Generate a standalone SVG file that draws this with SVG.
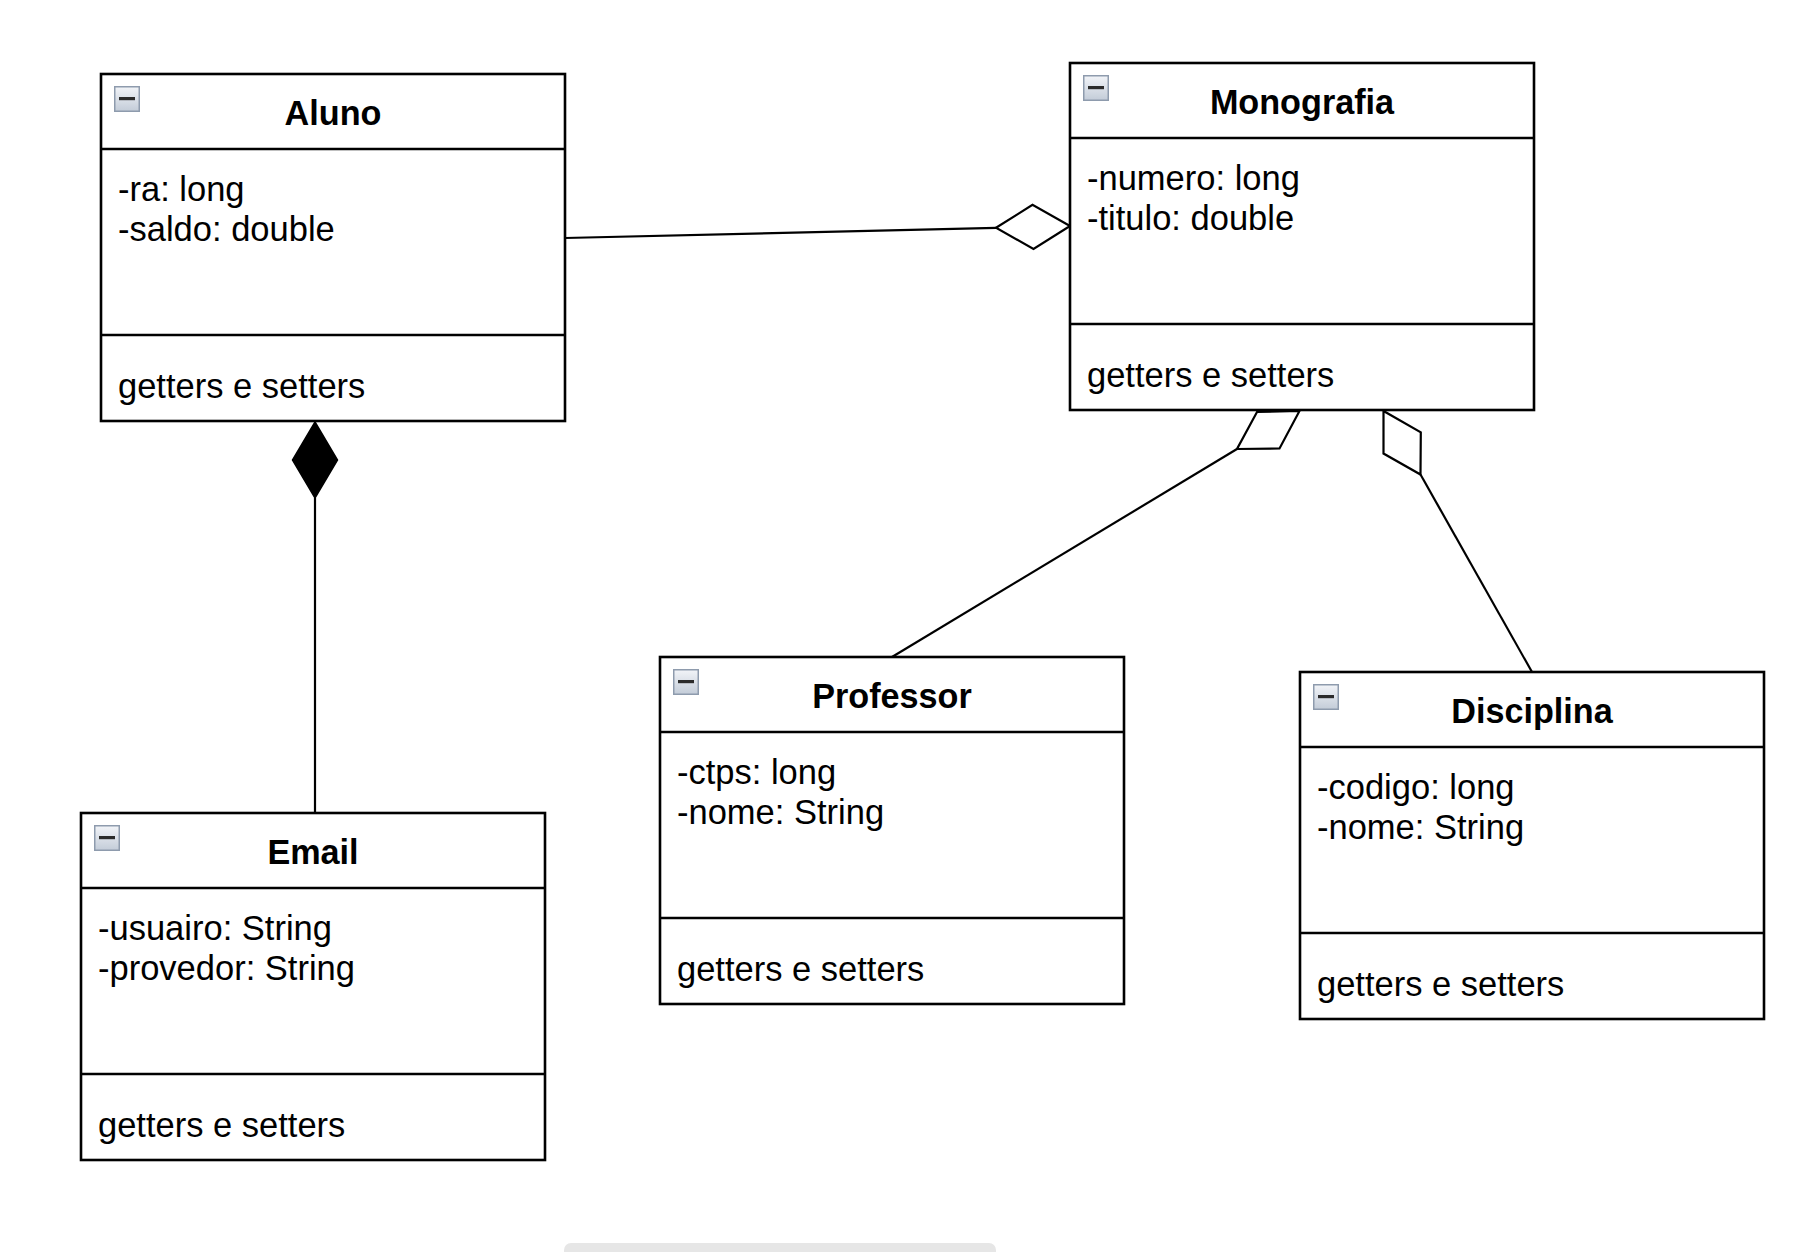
<svg xmlns="http://www.w3.org/2000/svg" xmlns:xlink="http://www.w3.org/1999/xlink" width="1802" height="1252" viewBox="0 0 1802 1252">
<style>
.box{fill:#fff;stroke:#000;stroke-width:2.6}
.div{stroke:#000;stroke-width:2.6}
.title{font-family:"Liberation Sans",Arial,sans-serif;font-weight:bold;font-size:34.2px;text-anchor:middle;fill:#000}
.txt{font-family:"Liberation Sans",Arial,sans-serif;font-size:34.5px;fill:#000}
.edge{fill:none;stroke:#000;stroke-width:2.2}
.agg{fill:#fff;stroke:#000;stroke-width:2.2;stroke-linejoin:miter}
.comp{fill:#000;stroke:#000;stroke-width:1.5}
</style>
<defs>
<linearGradient id="ig" x1="0" y1="0" x2="0" y2="1">
<stop offset="0" stop-color="#f2f4f8"/>
<stop offset="1" stop-color="#c3ccd8"/>
</linearGradient>
<g id="icon">
<rect x="0.75" y="0.75" width="24.5" height="24.5" fill="url(#ig)" stroke="#8e9bad" stroke-width="1.5"/>
<rect x="5" y="11" width="16" height="3.2" fill="#2b2b2b"/>
</g>
</defs>
<rect width="1802" height="1252" fill="#fff"/>

<g id="connectors">
<path class="edge" d="M565 238 L996 227.8"/>
<polygon class="agg" points="1070,226 1032.5,204.9 996,227.8 1033.5,248.9"/>
<path class="edge" d="M315 498 L315 813"/>
<polygon class="comp" points="315,422 337.5,460 315,498 292.5,460"/>
<path class="edge" d="M1237 449 L892 657"/>
<polygon class="agg" points="1299.5,411 1257,412 1237,449 1279.5,448.5"/>
<path class="edge" d="M1420.5 474.5 L1532 672"/>
<polygon class="agg" points="1383.5,411 1383.5,453.5 1420.5,474.5 1420.8,432.3"/>
</g>

<g id="Aluno">
<rect class="box" x="101" y="74" width="464" height="347"/>
<line class="div" x1="101" y1="149" x2="565" y2="149"/>
<line class="div" x1="101" y1="335" x2="565" y2="335"/>
<use xlink:href="#icon" x="114" y="86"/>
<text class="title" x="333" y="125">Aluno</text>
<text class="txt" x="118" y="201">-ra: long</text>
<text class="txt" x="118" y="241">-saldo: double</text>
<text class="txt" x="118" y="398">getters e setters</text>
</g>

<g id="Monografia">
<rect class="box" x="1070" y="63" width="464" height="347"/>
<line class="div" x1="1070" y1="138" x2="1534" y2="138"/>
<line class="div" x1="1070" y1="324" x2="1534" y2="324"/>
<use xlink:href="#icon" x="1083" y="75"/>
<text class="title" x="1302" y="114">Monografia</text>
<text class="txt" x="1087" y="190">-numero: long</text>
<text class="txt" x="1087" y="230">-titulo: double</text>
<text class="txt" x="1087" y="387">getters e setters</text>
</g>

<g id="Email">
<rect class="box" x="81" y="813" width="464" height="347"/>
<line class="div" x1="81" y1="888" x2="545" y2="888"/>
<line class="div" x1="81" y1="1074" x2="545" y2="1074"/>
<use xlink:href="#icon" x="94" y="825"/>
<text class="title" x="313" y="864">Email</text>
<text class="txt" x="98" y="940">-usuairo: String</text>
<text class="txt" x="98" y="980">-provedor: String</text>
<text class="txt" x="98" y="1137">getters e setters</text>
</g>

<g id="Professor">
<rect class="box" x="660" y="657" width="464" height="347"/>
<line class="div" x1="660" y1="732" x2="1124" y2="732"/>
<line class="div" x1="660" y1="918" x2="1124" y2="918"/>
<use xlink:href="#icon" x="673" y="669"/>
<text class="title" x="892" y="708">Professor</text>
<text class="txt" x="677" y="784">-ctps: long</text>
<text class="txt" x="677" y="824">-nome: String</text>
<text class="txt" x="677" y="981">getters e setters</text>
</g>

<g id="Disciplina">
<rect class="box" x="1300" y="672" width="464" height="347"/>
<line class="div" x1="1300" y1="747" x2="1764" y2="747"/>
<line class="div" x1="1300" y1="933" x2="1764" y2="933"/>
<use xlink:href="#icon" x="1313" y="684"/>
<text class="title" x="1532" y="723">Disciplina</text>
<text class="txt" x="1317" y="799">-codigo: long</text>
<text class="txt" x="1317" y="839">-nome: String</text>
<text class="txt" x="1317" y="996">getters e setters</text>
</g>

<rect x="564" y="1243" width="432" height="20" rx="7" fill="#e6e6e6"/>
</svg>
